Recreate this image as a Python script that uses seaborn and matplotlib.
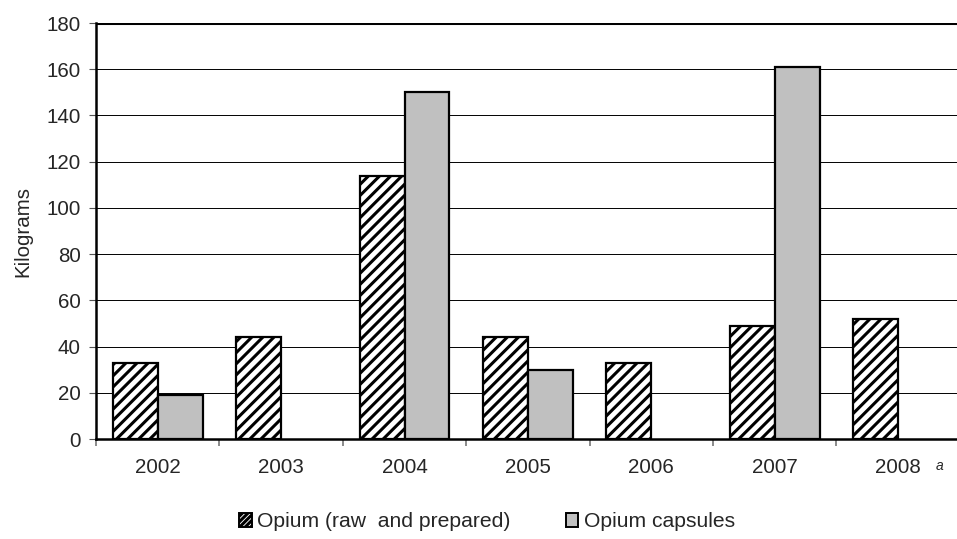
import pandas as pd
import matplotlib
matplotlib.use("Agg")
import matplotlib.pyplot as plt
import seaborn as sns
from matplotlib.patches import Patch
from matplotlib.ticker import FixedLocator

years = ["2002", "2003", "2004", "2005", "2006", "2007", "2008"]
opium_raw = [33, 44, 114, 44, 33, 49, 52]
opium_capsules = [19, None, 150, 30, None, 161, None]
series = ["Opium (raw  and prepared)", "Opium capsules"]

df = pd.DataFrame({
    "Year": years * 2,
    "Kilograms": opium_raw + opium_capsules,
    "Type": [series[0]] * len(years) + [series[1]] * len(years),
})

sns.set_style("white")
plt.rcParams["font.family"] = ["Liberation Sans", "DejaVu Sans"]
plt.rcParams["hatch.linewidth"] = 2.2
plt.rcParams["hatch.color"] = "#222222"

fs = 14.8

fig = plt.figure(figsize=(9.57, 5.39), dpi=100)
ax = fig.add_axes([0.1003, 0.1855, 0.9027, 0.7718])

sns.barplot(data=df, x="Year", y="Kilograms", hue="Type", ax=ax,
            palette=["white", "#c0c0c0"], width=0.727, edgecolor="black",
            linewidth=1.6, legend=False, saturation=1)

for bar in ax.containers[0]:
    bar.set_hatch("///")
    bar.set_facecolor("white")

ax.set_ylim(0, 180)
ax.set_xlim(-0.5, 6.5)
ax.set_yticks(range(0, 181, 20))
ax.yaxis.grid(True, color="black", linewidth=0.7)
ax.set_axisbelow(True)
ax.axhline(180, color="black", linewidth=2.2, zorder=0.5)

for side in ["top", "right"]:
    ax.spines[side].set_visible(False)
ax.spines["left"].set_linewidth(1.8)
ax.spines["bottom"].set_linewidth(1.8)
ax.spines["left"].set_color("black")
ax.spines["bottom"].set_color("black")

ax.tick_params(axis="y", left=True, length=5, width=0.8, color="#555555",
               pad=6, labelsize=fs, direction="out")
ax.tick_params(axis="x", which="major", bottom=False, length=0, pad=14,
               labelsize=fs)
ax.xaxis.set_minor_locator(FixedLocator([i + 0.5 for i in range(-1, 7)]))
ax.tick_params(axis="x", which="minor", bottom=True, length=5, width=1.2,
               color="#777777", direction="out")

ax.set_xlabel("")
ax.set_ylabel("Kilograms", fontsize=fs, labelpad=10)

fig.text(940 / 957, (539 - 466) / 539, "a", fontsize=10, style="italic",
         ha="center", va="center")

handles = [
    Patch(facecolor="white", edgecolor="black", hatch="//////", linewidth=1.4),
    Patch(facecolor="#c0c0c0", edgecolor="black", linewidth=1.4),
]
fig.legend(handles, series, loc="center", bbox_to_anchor=(0.509, 0.032),
           ncol=2, frameon=False, fontsize=15.2, handlelength=0.6,
           handleheight=0.6, handletextpad=0.25, columnspacing=2.6)

fig.savefig("out.png", dpi=100)
